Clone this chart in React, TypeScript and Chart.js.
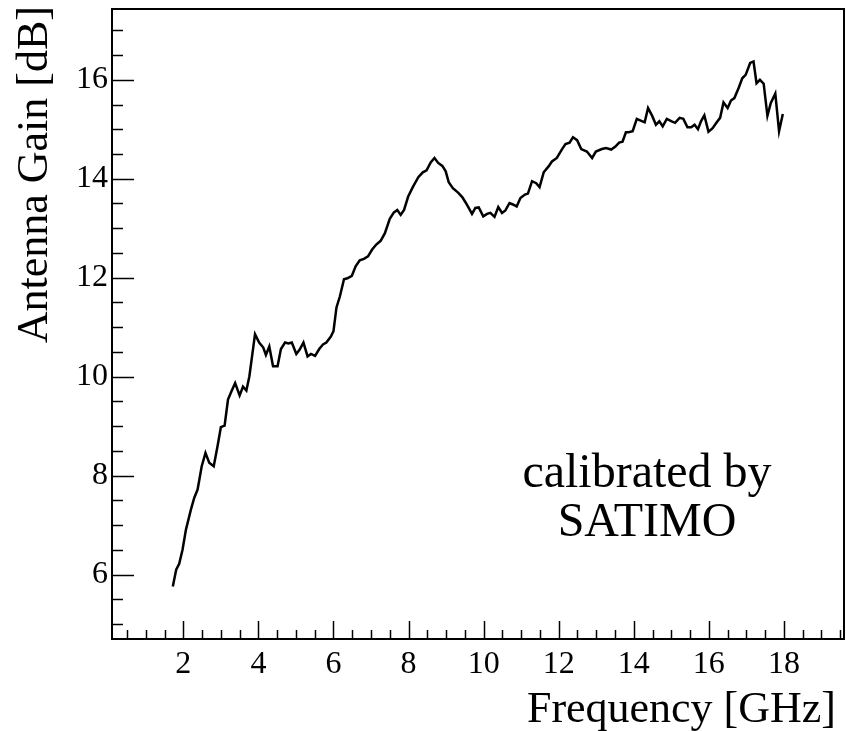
import React, { useEffect, useRef } from "react";
import { Chart, registerables } from "chart.js";

Chart.register(...registerables);

// Measured antenna gain versus frequency
const frequencyGHz = [
  1.72, 1.81, 1.89, 1.98, 2.07, 2.2, 2.29, 2.38, 2.49, 2.59, 2.69, 2.81, 2.91, 3.0, 3.1, 3.19, 3.28, 3.38,
  3.5, 3.59, 3.68, 3.76, 3.91, 4.02, 4.13, 4.2, 4.29, 4.39, 4.51, 4.6, 4.71, 4.8, 4.89, 5.01, 5.1, 5.2,
  5.31, 5.4, 5.51, 5.62, 5.72, 5.81, 5.93, 6.0, 6.08, 6.17, 6.28, 6.37, 6.49, 6.59, 6.7, 6.81, 6.92, 7.03,
  7.14, 7.26, 7.37, 7.5, 7.61, 7.7, 7.79, 7.88, 7.99, 8.12, 8.26, 8.38, 8.48, 8.59, 8.69, 8.79, 8.9, 8.99,
  9.07, 9.18, 9.32, 9.43, 9.52, 9.61, 9.69, 9.78, 9.87, 9.99, 10.09, 10.18, 10.29, 10.39, 10.49, 10.58,
  10.69, 10.78, 10.88, 10.98, 11.1, 11.18, 11.29, 11.4, 11.49, 11.6, 11.73, 11.82, 11.95, 12.09, 12.18,
  12.29, 12.38, 12.49, 12.6, 12.75, 12.89, 12.99, 13.15, 13.26, 13.4, 13.51, 13.61, 13.7, 13.79, 13.86,
  13.97, 14.08, 14.17, 14.29, 14.38, 14.49, 14.59, 14.68, 14.77, 14.88, 15.01, 15.1, 15.22, 15.32, 15.43,
  15.53, 15.62, 15.71, 15.79, 15.88, 15.99, 16.1, 16.21, 16.3, 16.39, 16.5, 16.59, 16.68, 16.79, 16.89,
  16.98, 17.1, 17.19, 17.27, 17.36, 17.46, 17.56, 17.65, 17.77, 17.87, 17.97,
];

const gainDB = [
  5.76, 6.1, 6.22, 6.51, 6.91, 7.31, 7.55, 7.72, 8.19, 8.46, 8.26, 8.19, 8.59, 8.98, 9.01, 9.54, 9.7, 9.87,
  9.62, 9.8, 9.72, 10.01, 10.86, 10.69, 10.59, 10.44, 10.61, 10.21, 10.21, 10.56, 10.69, 10.67, 10.69,
  10.46, 10.55, 10.69, 10.41, 10.46, 10.42, 10.56, 10.65, 10.69, 10.81, 10.92, 11.4, 11.62, 11.97, 11.99,
  12.04, 12.23, 12.35, 12.38, 12.43, 12.57, 12.67, 12.75, 12.9, 13.19, 13.32, 13.37, 13.27, 13.37, 13.64,
  13.84, 14.03, 14.13, 14.17, 14.33, 14.42, 14.32, 14.26, 14.15, 13.93, 13.81, 13.72, 13.63, 13.52, 13.4,
  13.29, 13.41, 13.42, 13.24, 13.29, 13.31, 13.23, 13.43, 13.31, 13.36, 13.51, 13.48, 13.44, 13.61,
  13.68, 13.7, 13.95, 13.91, 13.83, 14.13, 14.25, 14.35, 14.42, 14.6, 14.7, 14.73, 14.84, 14.78, 14.6,
  14.55, 14.42, 14.55, 14.6, 14.62, 14.59, 14.65, 14.73, 14.75, 14.94, 14.94, 14.96, 15.21, 15.18, 15.14,
  15.43, 15.27, 15.09, 15.16, 15.06, 15.21, 15.16, 15.13, 15.23, 15.21, 15.04, 15.04, 15.09, 15.0, 15.16,
  15.28, 14.95, 15.02, 15.14, 15.23, 15.54, 15.43, 15.58, 15.63, 15.83, 16.03, 16.1, 16.34, 16.37, 15.93,
  16.0, 15.92, 15.27, 15.53, 15.72, 14.96, 15.31,
];

// Labelled ticks on each axis
const xTickLabels = [2, 4, 6, 8, 10, 12, 14, 16, 18];
const yTickLabels = [6, 8, 10, 12, 14, 16];

const xTitle = "Frequency [GHz]";
const yTitle = "Antenna Gain [dB]";
const noteLines = ["calibrated by", "SATIMO"];

// Axis ranges (10% margin around the data)
const X_MIN = 0.1;
const X_MAX = 19.6;
const Y_MIN = 4.7;
const Y_MAX = 17.43;
const MINOR_STEP = 0.5;

const SERIF = '"Liberation Serif", "DejaVu Serif", serif';

const frameAndAxes = {
  id: "frameAndAxes",
  afterDraw(chart: any) {
    const { ctx, chartArea: a, scales } = chart;
    const xs = scales.x;
    const ys = scales.y;
    ctx.save();

    // plot frame
    ctx.strokeStyle = "#000";
    ctx.lineWidth = 2;
    ctx.strokeRect(a.left, a.top, a.right - a.left, a.bottom - a.top);

    // inward ticks on the bottom axis
    ctx.lineWidth = 1.5;
    for (let i = Math.ceil(X_MIN / MINOR_STEP); i * MINOR_STEP < X_MAX; i++) {
      const v = i * MINOR_STEP;
      const px = Math.round(xs.getPixelForValue(v)) + 0.5;
      const major = xTickLabels.includes(v);
      const len = major ? 18 : 9;
      ctx.beginPath();
      ctx.moveTo(px, a.bottom);
      ctx.lineTo(px, a.bottom - len);
      ctx.stroke();
    }

    // inward ticks on the left axis
    for (let i = Math.ceil(Y_MIN / MINOR_STEP); i * MINOR_STEP < Y_MAX; i++) {
      const v = i * MINOR_STEP;
      const py = Math.round(ys.getPixelForValue(v)) + 0.5;
      const major = yTickLabels.includes(v);
      const len = major ? 22 : 11;
      ctx.beginPath();
      ctx.moveTo(a.left, py);
      ctx.lineTo(a.left + len, py);
      ctx.stroke();
    }

    // tick labels
    ctx.fillStyle = "#000";
    ctx.font = `32px ${SERIF}`;
    ctx.textAlign = "center";
    ctx.textBaseline = "alphabetic";
    xTickLabels.forEach((v) => {
      ctx.fillText(String(v), xs.getPixelForValue(v), a.bottom + 34);
    });
    ctx.textAlign = "right";
    ctx.textBaseline = "middle";
    yTickLabels.forEach((v) => {
      ctx.fillText(String(v), a.left - 4, ys.getPixelForValue(v));
    });

    // axis titles
    ctx.font = `44px ${SERIF}`;
    ctx.textAlign = "right";
    ctx.textBaseline = "alphabetic";
    ctx.fillText(xTitle, a.right - 8, a.bottom + 83);

    ctx.save();
    ctx.translate(47, a.top - 3);
    ctx.rotate(-Math.PI / 2);
    ctx.textAlign = "right";
    ctx.fillText(yTitle, 0, 0);
    ctx.restore();

    // note inside the plot
    ctx.font = `48px ${SERIF}`;
    ctx.textAlign = "center";
    const cx = 647;
    ctx.fillText(noteLines[0], cx, 487);
    ctx.fillText(noteLines[1], cx, 536);

    ctx.restore();
  },
};

export default function App() {
  const canvasRef = useRef<HTMLCanvasElement | null>(null);

  useEffect(() => {
    const canvas = canvasRef.current;
    if (!canvas) return;
    const chart = new Chart(canvas, {
      type: "line",
      data: {
        datasets: [
          {
            data: frequencyGHz.map((f, i) => ({ x: f, y: gainDB[i] })),
            borderColor: "#000",
            borderWidth: 2.5,
            pointRadius: 0,
            tension: 0,
            fill: false,
          },
        ],
      },
      options: {
        responsive: false,
        animation: false,
        devicePixelRatio: 1,
        layout: { padding: { left: 112, top: 9, right: 2, bottom: 92 } },
        scales: {
          x: { type: "linear", min: X_MIN, max: X_MAX, display: false },
          y: { type: "linear", min: Y_MIN, max: Y_MAX, display: false },
        },
        plugins: {
          legend: { display: false },
          tooltip: { enabled: false },
        },
      },
      plugins: [frameAndAxes],
    });
    return () => chart.destroy();
  }, []);

  return (
    <div style={{ position: "fixed", left: 0, top: 0, width: 846, height: 731, background: "#fff" }}>
      <canvas ref={canvasRef} width={846} height={731} />
    </div>
  );
}
